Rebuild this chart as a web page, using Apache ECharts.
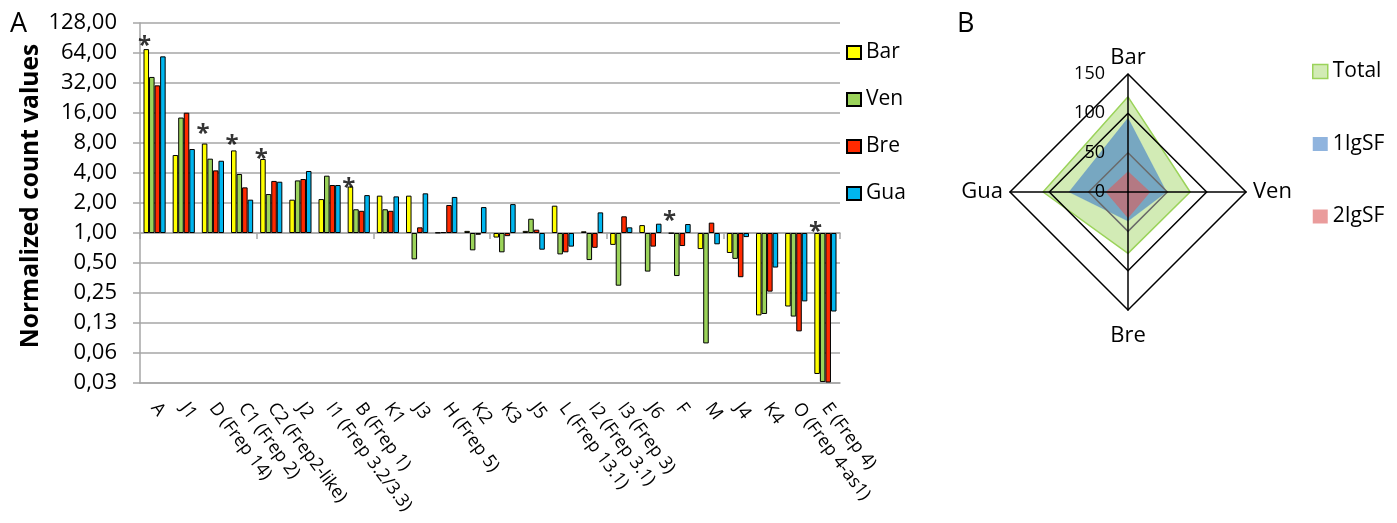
<!DOCTYPE html>
<html>
<head>
<meta charset="utf-8">
<script src="https://cdn.jsdelivr.net/npm/echarts@6/dist/echarts.min.js"></script>
<style>
html,body{margin:0;padding:0;background:#fff;}
#c{width:1397px;height:523px;}
</style>
</head>
<body>
<div id="c"></div>
<script>
const categories = ['A','J1','D (Frep 14)','C1 (Frep 2)','C2 (Frep2-like)','J2','I1 (Frep 3.2/3.3)','B (Frep 1)','K1','J3','H (Frep 5)','K2','K3','J5','L (Frep 13.1)','I2 (Frep 3.1)','I3 (Frep 3)','J6','F','M','J4','K4','O (Frep 4-as1)','E (Frep 4)'];
const barValues = [70, 6.06, 7.9, 6.74, 5.53, 2.16, 2.19, 2.93, 2.37, 2.37, 1.01, 1.05, 0.9, 1.05, 1.88, 1.04, 0.76, 1.2, 0.99, 0.69, 0.63, 0.149, 0.183, 0.0385];
const venValues = [36.8, 14.4, 5.57, 3.91, 2.46, 3.37, 3.76, 1.73, 1.73, 0.544, 1.02, 0.67, 0.64, 1.39, 0.61, 0.535, 0.296, 0.41, 0.37, 0.078, 0.55, 0.154, 0.145, 0.032];
const breValues = [30.3, 16.1, 4.25, 2.87, 3.33, 3.48, 3.03, 1.67, 1.67, 1.14, 1.91, 0.96, 0.93, 1.08, 0.64, 0.71, 1.47, 0.73, 0.74, 1.27, 0.36, 0.258, 0.103, 0.0316];
const guaValues = [59.2, 6.96, 5.31, 2.16, 3.27, 4.19, 3.03, 2.4, 2.33, 2.5, 2.3, 1.82, 1.95, 0.68, 0.73, 1.61, 1.14, 1.24, 1.23, 0.77, 0.91, 0.45, 0.206, 0.163];
const starIndices = [0, 2, 3, 4, 7, 18, 23];
const starValues = [86, 11.3, 8.7, 6.3, 3.27, 1.52, 1.18];
const yTickLabels = ['0,03','0,06','0,13','0,25','0,50','1,00','2,00','4,00','8,00','16,00','32,00','64,00','128,00'];
const yMinExp = -5;

const radarAxes = ['Bar','Ven','Bre','Gua'];
const radarMax = 150;
const totalValues = [121, 79, 78, 108];
const igsf1Values = [94, 49, 37, 75];
const igsf2Values = [26, 28, 33, 28];

const FONT = 'Open Sans';
// ECharts places radar indicators counter-clockwise; reorder so Bar top, Ven right, Bre bottom, Gua left
const order = [0, 3, 2, 1];
const reorder = arr => order.map(i => arr[i]);

const gridColor = '#a6a6a6';
const chart = echarts.init(document.getElementById('c'), null, {renderer: 'canvas'});

const barStyle = (name, color, data) => ({
  name: name, type: 'bar', xAxisIndex: 0, yAxisIndex: 0, data: data,
  barGap: '0%', barCategoryGap: '24%',
  itemStyle: {color: color, borderColor: '#000', borderWidth: 1},
  emphasis: {disabled: true}
});

const nameBase = {fontSize: 22, color: '#000', fontFamily: FONT};

const option = {
  animation: false,
  textStyle: {fontFamily: FONT},
  graphic: [
    {type: 'text', left: 10, top: 11, style: {text: 'A', fontSize: 27, fill: '#000', fontFamily: FONT}},
    {type: 'text', left: 957, top: 11, style: {text: 'B', fontSize: 27, fill: '#000', fontFamily: FONT}},
    {type: 'text', x: 31, y: 196, rotation: Math.PI / 2,
     style: {text: 'Normalized count values', fontSize: 24.5, fontWeight: 'bold', fill: '#000', fontFamily: FONT, textAlign: 'center', textVerticalAlign: 'middle'}}
  ],
  grid: [
    {left: 140, top: 23, width: 700, height: 360},
    {left: 140, top: 23, width: 700, height: 210}
  ],
  xAxis: [
    {type: 'category', gridIndex: 0, data: categories, position: 'bottom',
     axisLine: {show: true, lineStyle: {color: gridColor, width: 1.5}},
     axisTick: {show: false},
     axisLabel: {interval: 0, rotate: -53, fontSize: 18, color: '#000', margin: 22, fontFamily: FONT},
     splitLine: {show: false}},
    {type: 'category', gridIndex: 1, data: categories, position: 'bottom',
     axisLine: {show: true, lineStyle: {color: gridColor, width: 1.5}},
     axisTick: {show: true, length: 6, inside: false, lineStyle: {color: gridColor, width: 1.5}},
     axisLabel: {show: false}, splitLine: {show: false}}
  ],
  yAxis: [
    {type: 'log', gridIndex: 0, logBase: 2, min: 0.03125, max: 128, interval: 1,
     axisLine: {show: true, lineStyle: {color: gridColor, width: 1.5}},
     axisTick: {show: true, length: 7, lineStyle: {color: gridColor, width: 1.5}},
     splitLine: {show: true, lineStyle: {color: gridColor, width: 1.5}},
     axisLabel: {fontSize: 22, color: '#000', margin: 23, fontFamily: FONT,
       formatter: v => yTickLabels[Math.round(Math.log2(v)) - yMinExp]}},
    {type: 'value', gridIndex: 1, show: false}
  ],
  legend: [
    {data: ['Bar','Ven','Bre','Gua'], orient: 'vertical', left: 841, top: 37,
     itemWidth: 14, itemHeight: 13, itemGap: 26, icon: 'rect',
     textStyle: {fontSize: 21, color: '#000', fontFamily: FONT}, selectedMode: false},
    {data: [
      {name: 'Total', icon: 'rect', itemStyle: {color: 'rgba(155,211,90,0.45)', borderColor: '#9bd35a', borderWidth: 1.5}},
      {name: '1IgSF', icon: 'rect', itemStyle: {color: 'rgba(70,130,200,0.6)', borderColor: 'rgba(70,130,200,0.6)', borderWidth: 0}},
      {name: '2IgSF', icon: 'rect', itemStyle: {color: 'rgba(220,90,90,0.6)', borderColor: 'rgba(220,90,90,0.6)', borderWidth: 0}}
     ],
     orient: 'vertical', left: 1307, top: 56, itemWidth: 15, itemHeight: 14, itemGap: 51.5,
     textStyle: {fontSize: 21, color: '#000', fontFamily: FONT}, selectedMode: false}
  ],
  radar: {
    zlevel: 1,
    center: [1128, 192], radius: 118, startAngle: 90, shape: 'polygon', splitNumber: 3,
    indicator: reorder(radarAxes).map((n, i) => {
      const ind = {name: n, min: 0, max: radarMax};
      if (i === 0) ind.axisLabel = {show: true, fontSize: 18, color: '#000', margin: 23, fontFamily: FONT};
      return ind;
    }),
    axisName: {
      color: '#000', fontSize: 22, fontFamily: FONT,
      formatter: n => n === 'Bre' ? '{lo|' + n + '}' : n === 'Ven' ? '{ri|' + n + '}' : n === 'Gua' ? '{le|' + n + '}' : n,
      rich: {
        lo: Object.assign({padding: [10, 0, 0, 0]}, nameBase),
        ri: Object.assign({padding: [0, 0, 0, 2]}, nameBase),
        le: Object.assign({padding: [0, 2, 0, 0]}, nameBase)
      }
    },
    nameGap: 5,
    axisLine: {lineStyle: {color: '#000', width: 1.5}},
    splitLine: {lineStyle: {color: ['#000', '#6a6a6a', '#000', '#000'], width: 1.5}},
    splitArea: {show: false},
    axisTick: {show: false},
    axisLabel: {show: false}
  },
  series: [
    barStyle('Bar', '#ffff00', barValues),
    barStyle('Ven', '#9bd35a', venValues),
    barStyle('Bre', '#ff2a00', breValues),
    barStyle('Gua', '#00b6ef', guaValues),
    {type: 'scatter', xAxisIndex: 0, yAxisIndex: 0, symbolSize: 1,
     itemStyle: {color: 'rgba(0,0,0,0)'},
     data: starIndices.map((c, i) => [c, starValues[i]]),
     label: {show: true, position: 'inside', formatter: '*', fontSize: 24, fontWeight: 'bold', color: '#000', offset: [-10, 6], fontFamily: FONT},
     silent: true},
    {type: 'radar', symbol: 'none', silent: true,
     data: [
       {name: 'Total', value: reorder(totalValues),
        lineStyle: {color: '#9bd35a', width: 1.5}, areaStyle: {color: 'rgba(155,211,90,0.45)', opacity: 1},
        itemStyle: {color: '#9bd35a'}},
       {name: '1IgSF', value: reorder(igsf1Values),
        lineStyle: {color: 'rgba(70,130,200,0.5)', width: 0.5}, areaStyle: {color: 'rgba(70,130,200,0.65)', opacity: 1},
        itemStyle: {color: 'rgba(70,130,200,0.6)'}},
       {name: '2IgSF', value: reorder(igsf2Values),
        lineStyle: {color: 'rgba(220,90,90,0.5)', width: 0.5}, areaStyle: {color: 'rgba(220,90,90,0.6)', opacity: 1},
        itemStyle: {color: 'rgba(220,90,90,0.6)'}}
     ]}
  ]
};
chart.setOption(option);
</script>
</body>
</html>
